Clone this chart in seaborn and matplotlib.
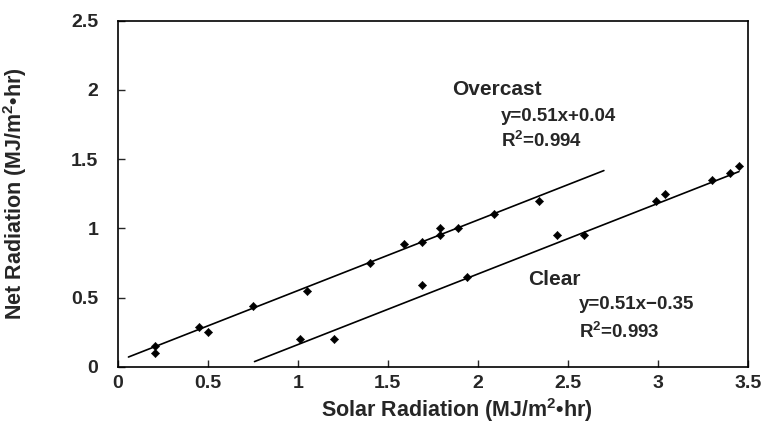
import numpy as np
import pandas as pd
import matplotlib
matplotlib.use("Agg")
import matplotlib.pyplot as plt
import seaborn as sns

# Overcast observations
overcast_x = [0.21, 0.21, 0.45, 0.50, 0.75, 1.05, 1.40, 1.59, 1.69, 1.79, 1.79, 1.89, 2.09, 2.34]
overcast_y = [0.15, 0.10, 0.29, 0.25, 0.44, 0.55, 0.75, 0.89, 0.90, 1.00, 0.95, 1.00, 1.10, 1.20]

# Clear observations
clear_x = [1.01, 1.20, 1.69, 1.94, 2.44, 2.59, 2.99, 3.04, 3.30, 3.40, 3.45]
clear_y = [0.20, 0.20, 0.59, 0.65, 0.95, 0.95, 1.20, 1.25, 1.35, 1.40, 1.45]

# fitted lines (slope, intercept, x range)
overcast_fit = (0.51, 0.04, 0.06, 2.70)
clear_fit = (0.51, -0.35, 0.76, 3.45)

x_ticks = [0, 0.5, 1, 1.5, 2, 2.5, 3, 3.5]
y_ticks = [0, 0.5, 1, 1.5, 2, 2.5]

sns.set_style("ticks")
plt.rcParams["font.family"] = ["Liberation Sans", "DejaVu Sans"]
plt.rcParams["font.weight"] = "bold"
plt.rcParams["mathtext.fontset"] = "custom"
plt.rcParams["mathtext.rm"] = "Liberation Sans:bold"
plt.rcParams["mathtext.bf"] = "Liberation Sans:bold"
plt.rcParams["mathtext.default"] = "bf"

pts = pd.concat([
    pd.DataFrame({"solar": overcast_x, "net": overcast_y, "sky": "Overcast"}),
    pd.DataFrame({"solar": clear_x, "net": clear_y, "sky": "Clear"}),
])

rows = []
for name, (m, b, x0, x1) in [("Overcast", overcast_fit), ("Clear", clear_fit)]:
    for xv in (x0, x1):
        rows.append({"solar": xv, "net": m * xv + b, "sky": name})
fits = pd.DataFrame(rows)

fig = plt.figure(figsize=(7.64, 4.29), dpi=100)
ax = fig.add_axes([0.154, 0.145, 0.825, 0.807])

sns.lineplot(data=fits, x="solar", y="net", units="sky", estimator=None,
             color="black", linewidth=1.2, ax=ax, legend=False)
sns.scatterplot(data=pts, x="solar", y="net", color="black", marker="D",
                s=18, edgecolor="black", ax=ax, legend=False, zorder=3)

ax.set_xlim(0, 3.5)
ax.set_ylim(0, 2.5)
ax.set_xticks(x_ticks)
ax.set_xticklabels([f"{t:g}" for t in x_ticks])
ax.set_yticks(y_ticks)
ax.set_yticklabels([f"{t:g}" for t in y_ticks])
ax.tick_params(direction="in", length=5, width=1, labelsize=14)
ax.tick_params(axis="x", pad=6)
ax.tick_params(axis="y", pad=14)
for lab in ax.get_xticklabels() + ax.get_yticklabels():
    lab.set_fontweight("bold")
for s in ax.spines.values():
    s.set_visible(True)
    s.set_linewidth(1.2)
    s.set_color("black")

ax.set_xlabel("Solar Radiation (MJ/m$^{2}$\u2022hr)", fontsize=15.5, fontweight="bold")
ax.xaxis.set_label_coords(0.538, -0.085)
ax.set_ylabel("Net Radiation (MJ/m$^{2}$\u2022hr)", fontsize=15.5, fontweight="bold")
ax.yaxis.set_label_coords(-0.14, 0.5)

ax.text(1.86, 2.0, "Overcast", fontsize=15, fontweight="bold", va="center")
ax.text(2.13, 1.81, "y=0.51x+0.04", fontsize=13.5, fontweight="bold", va="center")
ax.text(2.13, 1.63, "R$^{2}$=0.994", fontsize=13.5, fontweight="bold", va="center")
ax.text(2.28, 0.63, "Clear", fontsize=15, fontweight="bold", va="center")
ax.text(2.56, 0.45, "y=0.51x\u22120.35", fontsize=13.5, fontweight="bold", va="center")
ax.text(2.56, 0.25, "R$^{2}$=0.993", fontsize=13.5, fontweight="bold", va="center")

fig.savefig("out.png", dpi=100)
